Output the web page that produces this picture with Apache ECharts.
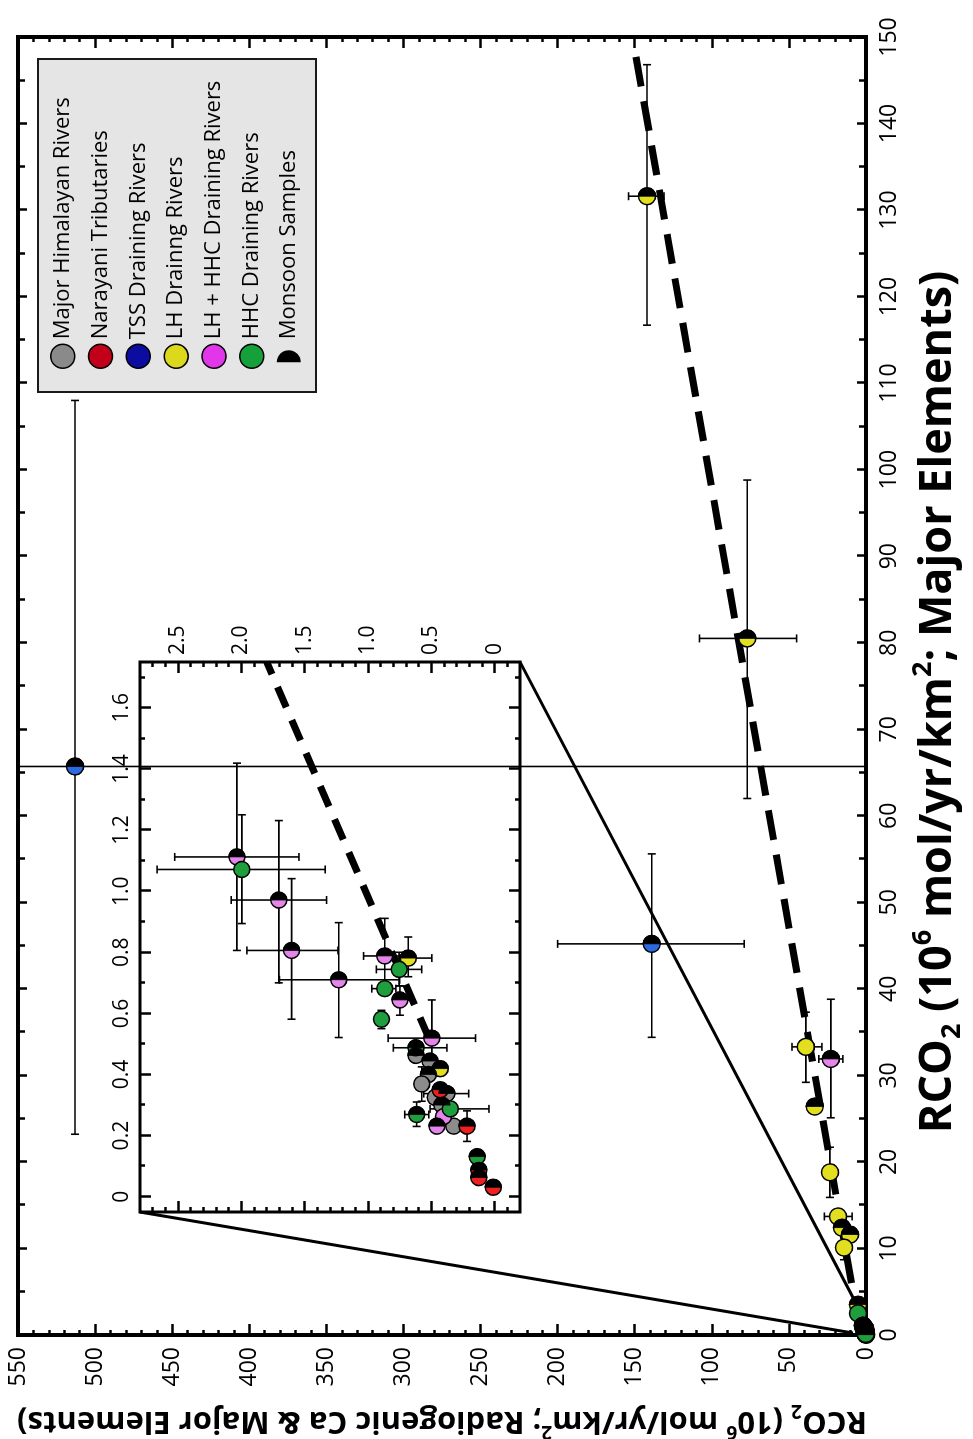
<!DOCTYPE html>
<html>
<head>
<meta charset="utf-8">
<script src="https://cdn.jsdelivr.net/npm/echarts@6/dist/echarts.min.js"></script>
<style>
html, body { margin: 0; padding: 0; background: #fff; overflow: hidden; }
#page { position: relative; width: 973px; height: 1439px; overflow: hidden; }
/* chart is drawn in landscape and turned a quarter turn to match the figure */
#chart {
  position: absolute; left: 0; top: 0;
  width: 1439px; height: 973px;
  transform-origin: 0 0;
  transform: translateY(1439px) rotate(-90deg);
}
</style>
</head>
<body>
<div id="page"><div id="chart"></div></div>
<script>
// point rows: [RCO2 major elements, RCO2 radiogenic Ca, monsoon, xLo, xHi, yLo, yHi]
const majorRivers = [
  [0.4625, 0.621, 1], [0.444, 0.51, 1], [0.40, 0.523, 1],
  [0.369, 0.576, 0, 0.3125, 0.425], [0.3375, 0.377, 1, null, null, 0.205, 0.56],
  [0.325, 0.47, 0], [0.30, 0.417, 1], [0.231, 0.324, 0],
]
const narayaniTributaries = [
  [0.35, 0.43, 1], [0.231, 0.218, 1, 0.181, 0.281],
  [0.0875, 0.125, 1], [0.0625, 0.125, 1], [0.031, 0.011, 1],
]
const tssRivers = [
  [65.7, 513, 1, 23.2, 108, -75, 1100],
  [45.2, 139, 1, 34.4, 55.6, 79, 200],
]
const lhRivers = [
  [131.6, 142, 1, 116.7, 146.8, 131, 154],
  [80.5, 77, 1, 62, 98.8, 45, 108],
  [33.3, 39, 0, 29.2, 37.3, 28.6, 48],
  [26.4, 33.2, 1],
  [18.8, 23.4, 0, 15.9, 21.7],
  [13.7, 18.2, 0, null, null, 9, 27],
  [12.4, 15.6, 1], [11.6, 10.4, 1],
  [10.1, 14.3, 0, 8.7, 11.5],
  [3.5, 5.2, 1],
  [0.781, 0.682, 1, 0.72, 0.85, 0.496, 0.87],
  [0.419, 0.43, 1],
]
const lhHhcRivers = [
  [31.9, 22.8, 1, 25.1, 38.8, 15, 30.6],
  [1.112, 2.035, 1, 0.806, 1.419, 1.545, 2.526],
  [0.971, 1.704, 1, 0.70, 1.231, 1.327, 2.08],
  [0.806, 1.603, 1, 0.581, 1.041, 1.237, 1.956],
  [0.71, 1.231, 1, 0.521, 0.897, 0.75, 1.699],
  [0.788, 0.868, 1, 0.70, 0.911, 0.65, 1.035],
  [0.644, 0.748, 1, 0.594, 0.69, 0.66, 0.80],
  [0.519, 0.496, 1, 0.42, 0.644, 0.151, 0.841],
  [0.2625, 0.403, 0], [0.231, 0.456, 1],
]
const hhcRivers = [
  [2.5, 5.2, 0],
  [1.071, 1.996, 0, 0.894, 1.25, 1.338, 2.665],
  [0.744, 0.754, 0, 0.69, 0.80, 0.576, 0.934],
  [0.681, 0.868, 0, null, null, 0.78, 0.97],
  [0.581, 0.894, 0, 0.55, 0.61],
  [0.4875, 0.621, 1, null, null, 0.377, 0.80],
  [0.2875, 0.35, 0, null, null, 0.045, 0.51],
  [0.269, 0.616, 1, 0.23, 0.31, 0.52, 0.71],
  [0.131, 0.138, 1],
]

const groups = [
  { name: 'Major Himalayan Rivers', data: majorRivers, color: '#8c8c8c', key: '#8a8a8a' },
  { name: 'Narayani Tributaries', data: narayaniTributaries, color: '#ee2020', key: '#c2001a' },
  { name: 'TSS Draining Rivers', data: tssRivers, color: '#2c6ae0', key: '#0c0ca0' },
  { name: 'LH Drainng Rivers', data: lhRivers, color: '#e2de20', key: '#dcd81c' },
  { name: 'LH + HHC Draining Rivers', data: lhHhcRivers, color: '#e485ea', key: '#e236ea' },
  { name: 'HHC Draining Rivers', data: hhcRivers, color: '#1e9e3c', key: '#16a03c' },
]

const mainFit = [[6, 9.4], [148, 149.5]]
const insetFit = [[0.52, 0.52], [1.75, 1.80]]
const zoomLineA = [[14.21, 470.9], [0.23, 8.4]]
const zoomLineB = [[77.78, 224.4], [4.3, 8.4]]

const insetXRange = [-0.05, 1.75]
const insetYRange = [-0.2, 2.8]
const insetXLabels = [0, 0.2, 0.4, 0.6, 0.8, 1.0, 1.2, 1.4, 1.6]
const insetXMinor = [0.1, 0.3, 0.5, 0.7, 0.9, 1.1, 1.3, 1.5, 1.7]
const insetYLabels = [0, 0.5, 1.0, 1.5, 2.0, 2.5]
const insetYMinor = [-0.1, 0.1, 0.2, 0.3, 0.4, 0.6, 0.7, 0.8, 0.9, 1.1, 1.2, 1.3, 1.4,
  1.6, 1.7, 1.8, 1.9, 2.1, 2.2, 2.3, 2.4, 2.6, 2.7]

const FONT = '"Open Sans", "DejaVu Sans", sans-serif'
const HALF = 'path://M0,0 A10,10 0 0,1 0,20 Z'
const tickLine = { color: '#000', width: 2.5 }

const chart = echarts.init(document.getElementById('chart'), null, { renderer: 'canvas' })

function mainAxis(dim, position, withLabels, extra) {
  const isX = dim === 'x'
  return Object.assign({
    type: 'value',
    gridIndex: 0,
    position,
    min: 0,
    max: isX ? 150 : 550,
    interval: isX ? 10 : 50,
    axisLine: { show: false, onZero: false },
    axisTick: { show: true, inside: true, length: isX ? 9 : 11, lineStyle: tickLine },
    minorTick: { show: true, splitNumber: isX ? 2 : 5, length: isX ? 7 : 5, lineStyle: tickLine },
    axisLabel: {
      show: withLabels, margin: 12, color: '#000', fontSize: 23, fontFamily: FONT,
      showMinLabel: true, showMaxLabel: true, hideOverlap: false,
    },
    splitLine: { show: false },
    minorSplitLine: { show: false },
  }, extra || {})
}

function insetAxis(dim, position, ticks, len, labels) {
  const isX = dim === 'x'
  const range = isX ? insetXRange : insetYRange
  return {
    type: 'value',
    gridIndex: 1,
    position,
    min: range[0],
    max: range[1],
    axisLine: { show: false, onZero: false },
    axisTick: { show: true, inside: true, length: len, customValues: ticks, lineStyle: tickLine },
    axisLabel: labels
      ? { show: true, customValues: labels, margin: 7, color: '#000', fontSize: 21, fontFamily: FONT,
          formatter: (v) => (v === 0 ? '0' : v.toFixed(1)) }
      : { show: false },
    splitLine: { show: false },
  }
}

function titleStyle(size, sub, lh, pad) {
  return {
    fontSize: size, fontWeight: 'bold', fontFamily: FONT, color: '#000', lineHeight: lh,
    padding: pad || 0,
    rich: {
      sub: { fontSize: sub, fontWeight: 'bold', fontFamily: FONT, color: '#000', verticalAlign: 'bottom' },
      sup: { fontSize: sub, fontWeight: 'bold', fontFamily: FONT, color: '#000', verticalAlign: 'top' },
    },
  }
}

// error bars with caps, held inside the plotting frame
function makeErrorRender(cap) {
  return function (params, api) {
    const cs = params.coordSys
    const clampX = (p) => Math.min(Math.max(p, cs.x), cs.x + cs.width)
    const clampY = (p) => Math.min(Math.max(p, cs.y), cs.y + cs.height)
    const v = (i) => api.value(i)
    const style = { stroke: '#000', lineWidth: 1.6, fill: null }
    const kids = []
    const seg = (x1, y1, x2, y2) => kids.push({ type: 'line', shape: { x1, y1, x2, y2 }, style })
    if (v(2) !== v(3)) {
      const a = api.coord([v(2), v(1)])
      const b = api.coord([v(3), v(1)])
      const ax = clampX(a[0]), bx = clampX(b[0])
      seg(ax, a[1], bx, b[1])
      if (ax === a[0]) seg(ax, a[1] - cap, ax, a[1] + cap)
      if (bx === b[0]) seg(bx, b[1] - cap, bx, b[1] + cap)
    }
    if (v(4) !== v(5)) {
      const a = api.coord([v(0), v(4)])
      const b = api.coord([v(0), v(5)])
      const ay = clampY(a[1]), by = clampY(b[1])
      seg(a[0], ay, b[0], by)
      if (ay === a[1]) seg(a[0] - cap, ay, a[0] + cap, ay)
      if (by === b[1]) seg(b[0] - cap, by, b[0] + cap, by)
    }
    return { type: 'group', children: kids }
  }
}

const allRows = groups.flatMap((g) => g.data)
const errorRows = allRows
  .filter((p) => p[3] != null || p[5] != null)
  .map((p) => [p[0], p[1], p[3] ?? p[0], p[4] ?? p[0], p[5] ?? p[1], p[6] ?? p[1]])
const monsoonRows = allRows.filter((p) => p[2] === 1).map((p) => [p[0], p[1]])

function seriesFor(axisIndex, size, zBase) {
  const list = []
  list.push({
    type: 'custom', xAxisIndex: axisIndex, yAxisIndex: axisIndex, silent: true, z: zBase,
    renderItem: makeErrorRender(4), data: errorRows,
  })
  groups.forEach((g) => {
    list.push({
      name: g.name, type: 'scatter', xAxisIndex: axisIndex, yAxisIndex: axisIndex,
      data: g.data.map((p) => [p[0], p[1]]),
      symbol: 'circle', symbolSize: size, clip: true, z: zBase + 1, silent: true,
      itemStyle: { color: g.color, borderColor: '#000', borderWidth: 1.5, opacity: 1 },
    })
  })
  list.push({
    name: 'Monsoon Samples', type: 'scatter', xAxisIndex: axisIndex, yAxisIndex: axisIndex,
    data: monsoonRows, symbol: HALF, symbolSize: [size / 2, size], symbolOffset: [size / 4, 0],
    clip: true, z: zBase + 2, silent: true,
    itemStyle: { color: '#000', borderColor: '#000', borderWidth: 1, opacity: 1 },
  })
  return list
}

function lineSeries(axisIndex, data, width, dash, z) {
  return {
    type: 'line', xAxisIndex: axisIndex, yAxisIndex: axisIndex, data, symbol: 'none',
    silent: true, z, lineStyle: { color: '#000', width, type: dash, cap: 'butt' },
  }
}

const option = {
  animation: false,
  backgroundColor: '#fff',
  grid: [
    { left: 104, top: 18, width: 1298, height: 848, show: true, borderColor: '#000', borderWidth: 4,
      backgroundColor: 'transparent', containLabel: false, outerBoundsMode: 'none' },
    { left: 227, top: 140, width: 550, height: 380, show: true, borderColor: '#000', borderWidth: 3,
      backgroundColor: '#fff', containLabel: false, outerBoundsMode: 'none' },
  ],
  xAxis: [
    mainAxis('x', 'bottom', true, {
      name: 'RCO{sub|2} (10{sup|6} mol/yr/km{sup|2}; Major Elements)',
      nameLocation: 'middle', nameGap: 44, nameTextStyle: titleStyle(45, 27, 56, [0, 32, 0, 0]),
    }),
    mainAxis('x', 'top', false),
    insetAxis('x', 'top', insetXLabels, 11, insetXLabels),
    insetAxis('x', 'top', insetXMinor, 5),
    insetAxis('x', 'bottom', insetXLabels, 11),
    insetAxis('x', 'bottom', insetXMinor, 5),
  ],
  yAxis: [
    mainAxis('y', 'left', true, {
      name: 'RCO{sub|2} (10{sup|6} mol/yr/km{sup|2}; Radiogenic Ca & Major Elements)',
      nameLocation: 'middle', nameRotate: 90, nameGap: 66, nameTextStyle: titleStyle(31, 19, 40),
    }),
    mainAxis('y', 'right', false),
    insetAxis('y', 'right', insetYLabels, 11, insetYLabels),
    insetAxis('y', 'right', insetYMinor, 5),
    insetAxis('y', 'left', insetYLabels, 11),
    insetAxis('y', 'left', insetYMinor, 5),
  ],
  legend: {
    orient: 'vertical', left: 1070, top: 50, padding: 0, z: 10,
    itemWidth: 24, itemHeight: 24, itemGap: 12.3, itemTextGap: 10,
    selectedMode: false,
    textStyle: { fontSize: 22, color: '#000', fontFamily: FONT },
    data: groups.map((g) => ({
      name: g.name, icon: 'circle',
      itemStyle: { color: g.key, borderColor: '#000', borderWidth: 1.5, opacity: 1 },
    })).concat([{ name: 'Monsoon Samples', icon: HALF, itemStyle: { color: '#000', borderWidth: 0, opacity: 1 } }]),
  },
  graphic: [
    { type: 'rect', left: 1046, top: 37, z: 9, silent: true,
      shape: { width: 333, height: 278 },
      style: { fill: '#e5e5e5', stroke: '#1a1a1a', lineWidth: 2 } },
  ],
  series: [
    lineSeries(0, zoomLineA, 3, 'solid', 2),
    lineSeries(0, zoomLineB, 3, 'solid', 2),
    lineSeries(0, mainFit, 7, [30, 15], 2),
    ...seriesFor(0, 17, 2),
    lineSeries(2, insetFit, 7, [22, 14], 5),
    ...seriesFor(2, 16, 5),
  ],
}

chart.setOption(option)
</script>
</body>
</html>
